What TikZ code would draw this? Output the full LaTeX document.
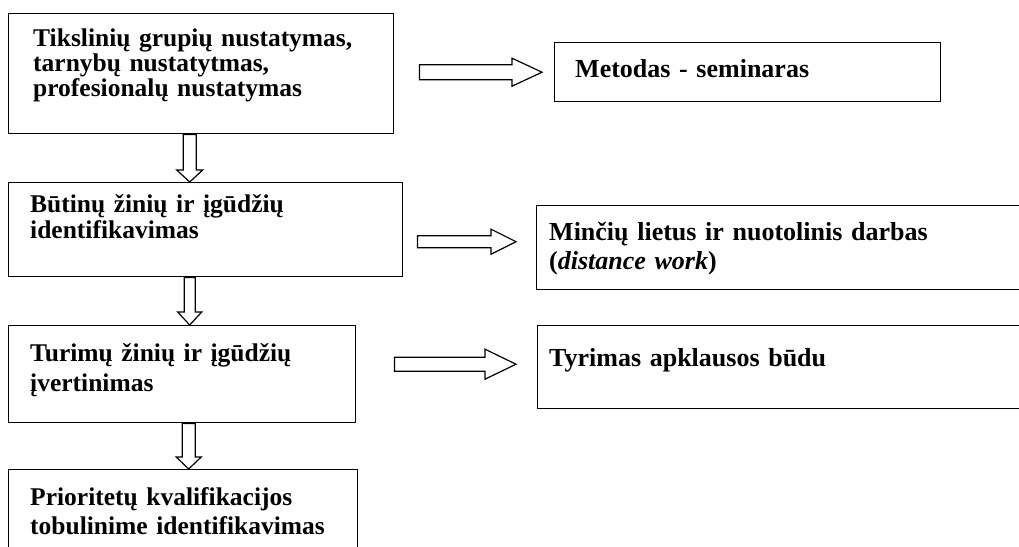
\documentclass[tikz,border=0pt]{standalone}
\usepackage{fontspec}
\setmainfont{Liberation Serif}
\usetikzlibrary{calc}
\tikzset{
  boxst/.style={draw, line width=1.4pt, rectangle, inner sep=0pt, anchor=north west},
  txtst/.style={font=\fontsize{25.5}{#1}\selectfont\bfseries, anchor=base west, inner sep=0pt, align=left, text width=460pt},
  rtxtst/.style={font=\fontsize{26}{#1}\selectfont\bfseries, anchor=base west, inner sep=0pt, align=left, text width=460pt},
  barrow/.style={draw, line width=1.2pt, fill=white, line join=miter},
}
% horizontal block arrow: start, tip, shaft half, head half, head length
\newcommand\myharrow[5]{%
  \draw[barrow] let \p1=(#1), \p2=(#2) in
    (\x1,\y1+#3pt) -- (\x2-#5pt,\y1+#3pt) -- (\x2-#5pt,\y1+#4pt) -- (\x2,\y1)
    -- (\x2-#5pt,\y1-#4pt) -- (\x2-#5pt,\y1-#3pt) -- (\x1,\y1-#3pt) -- cycle;}
% downward block arrow
\newcommand\myvarrow[5]{%
  \draw[barrow] let \p1=(#1), \p2=(#2) in
    (\x1-#3pt,\y1) -- (\x1-#3pt,\y2+#5pt) -- (\x1-#4pt,\y2+#5pt) -- (\x1,\y2)
    -- (\x1+#4pt,\y2+#5pt) -- (\x1+#3pt,\y2+#5pt) -- (\x1+#3pt,\y1) -- cycle;}
\begin{document}
\begin{tikzpicture}[x=1pt,y=-1pt]
\useasboundingbox (0,0) rectangle (1019,546);
\clip (0,0) rectangle (1019,546);
\fill[white] (0,0) rectangle (1019,546);

% left column boxes
\node[boxst, minimum width=385pt, minimum height=120pt] (b1) at (8,13) {};
\node[boxst, minimum width=394pt, minimum height=94pt] (b2) at (8,182) {};
\node[boxst, minimum width=347pt, minimum height=97pt] (b3) at (8,325) {};
\node[boxst, minimum width=349pt, minimum height=110pt] (b4) at (8,469) {};

% right column boxes
\node[boxst, minimum width=386pt, minimum height=59pt] (r1) at (554,42) {};
\node[boxst, minimum width=500pt, minimum height=84pt] (r2) at (536,205) {};
\node[boxst, minimum width=500pt, minimum height=83pt] (r3) at (537,325) {};

% texts
\node[txtst=25pt] (t1) at (33,46) {Tikslinių grupių nustatymas,\\tarnybų nustatytmas,\\profesionalų nustatymas};
\node[txtst=26pt] (t2) at (30,212) {Būtinų žinių ir įgūdžių\\identifikavimas};
\node[txtst=30pt] (t3) at (30,361) {Turimų žinių ir įgūdžių\\įvertinimas};
\node[txtst=29pt] (t4) at (30,505) {Prioritetų kvalifikacijos\\tobulinime identifikavimas};
\node[rtxtst=25.5pt] (s1) at (575,77) {Metodas - seminaras};
\node[rtxtst=29pt] (s2) at (549,240) {Minčių lietus ir nuotolinis darbas\\(\textit{distance work})};
\node[rtxtst=25.5pt] (s3) at (549,366) {Tyrimas apklausos būdu};

% connector coordinates
\coordinate (a1s) at ($(b1.east |- r1.west)+(25,0)$);
\coordinate (a1e) at ($(r1.west)+(-12,0)$);
\coordinate (a2s) at ($(b2.east)+(14,12)$);
\coordinate (a2e) at ($(a2s -| r2.west)+(-20,0)$);
\coordinate (a3s) at ($(b3.east)+(38,-10)$);
\coordinate (a3e) at ($(a3s -| r3.west)+(-21,0)$);
\coordinate (v1s) at ($(b1.south)+(-11.5,0)$);
\coordinate (v1e) at (v1s |- b2.north);
\coordinate (v2s) at (v1s |- b2.south);
\coordinate (v2e) at (v1s |- b3.north);
\coordinate (v3s) at ($(v1s |- b3.south)+(-1,0)$);
\coordinate (v3e) at (v3s |- b4.north);

% block arrows
\myharrow{a1s}{a1e}{7.5}{14}{30}
\myharrow{a2s}{a2e}{6}{12.5}{25}
\myharrow{a3s}{a3e}{7}{15}{31}
\myvarrow{v1s}{v1e}{6.5}{13}{12}
\myvarrow{v2s}{v2e}{5.5}{12}{13}
\myvarrow{v3s}{v3e}{6.5}{12.5}{12}
\end{tikzpicture}
\end{document}
